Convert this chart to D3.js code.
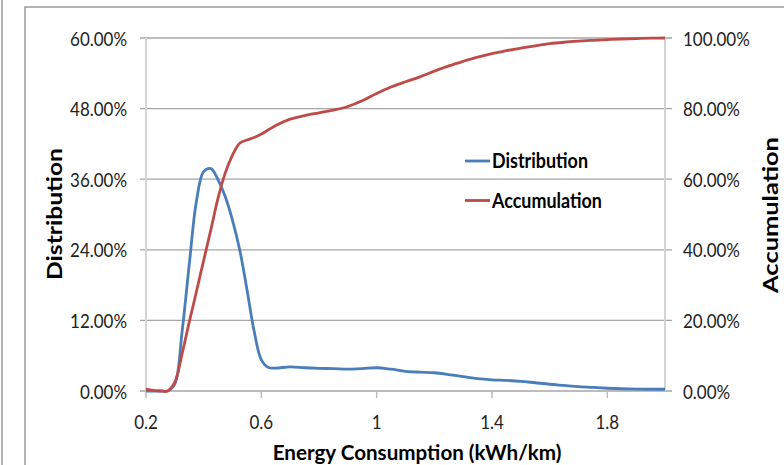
<!DOCTYPE html>
<html><head><meta charset="utf-8">
<script src="https://cdn.jsdelivr.net/npm/d3@7"></script>
<style>body{margin:0;background:#fff;overflow:hidden}</style>
</head><body><svg id="c" width="784" height="465"></svg>
<script>
// ---- data ----
const energy = [0.2,0.225,0.25,0.275,0.3,0.325,0.35,0.375,0.4,0.425,0.45,0.475,0.5,0.525,0.55,0.575,0.6,0.625,0.65,
  0.7,0.75,0.8,0.85,0.9,0.95,1.0,1.05,1.1,1.15,1.2,1.25,1.3,1.35,1.4,1.45,1.5,1.55,1.6,1.65,1.7,1.75,1.8,1.85,1.9,1.95,2.0];
const distribution = [0,0,0,0,1.2,10.0,21.5,32.3,37.3,37.8,35.9,33.0,29.0,24.0,17.3,10.2,5.3,4.0,3.9,
  4.1,3.95,3.85,3.8,3.72,3.8,3.95,3.7,3.35,3.2,3.1,2.8,2.45,2.1,1.9,1.8,1.65,1.4,1.15,0.95,0.75,0.6,0.47,0.38,0.33,0.3,0.3];
const accumulation = [0.5,0.2,0,0,2.5,10.5,19.5,28.2,37.0,45.7,54.7,61.8,66.8,70.2,71.1,71.8,72.8,74.0,75.2,
  77.0,78.0,78.8,79.6,80.6,82.2,84.3,86.1,87.6,89.0,90.6,92.1,93.4,94.6,95.6,96.4,97.15,97.8,98.4,98.8,99.1,99.35,99.55,99.72,99.85,99.95,100];
const xTicks = [0.2,0.6,1.0,1.4,1.8];
const leftTicks = [0,12,24,36,48,60];
const rightTicks = [0,20,40,60,80,100];
const seriesNames = ["Distribution","Accumulation"];
const seriesColors = ["#4A7EBB","#BE4B48"];
const xTitle = "Energy Consumption (kWh/km)";
const yLeftTitle = "Distribution";
const yRightTitle = "Accumulation";

const FONT = "Lato,'Open Sans',sans-serif";
const svg = d3.select("#c");

function measure(str, size, weight){
  const t = svg.append("text").attr("font-family",FONT).attr("font-size",size).attr("font-weight",weight).text(str);
  const w = t.node().getComputedTextLength(); t.remove(); return w;
}
function label(g, str, x, y, o){
  g.append("text").attr("transform",`translate(${x},${y})${o.rot?" rotate(-90)":""} scale(${o.sx},1)`)
    .attr("text-anchor",o.anchor).attr("font-family",FONT).attr("font-size",o.size)
    .attr("font-weight",o.weight||"normal").attr("fill",o.fill||"#000").text(str);
}

// frame
svg.append("line").attr("x1",2).attr("x2",2).attr("y1",0).attr("y2",465).attr("stroke","#9a9a9a").attr("stroke-width",1.5);
svg.append("path").attr("d","M25,465V7H784").attr("fill","none").attr("stroke","#9a9a9a").attr("stroke-width",1.5);

const L=146,R=665,T=38,B=391;
const x = d3.scaleLinear().domain([0.2,2.0]).range([L,R]);
const yL = d3.scaleLinear().domain([0,60]).range([B,T]);
const yR = d3.scaleLinear().domain([0,100]).range([B,T]);

// gridlines (incl. outward ticks both sides)
svg.append("g").selectAll("line").data(leftTicks).join("line")
  .attr("x1",L-6).attr("x2",R+7).attr("y1",d=>yL(d)).attr("y2",d=>yL(d))
  .attr("stroke","#a6a6a6").attr("stroke-width",1.3);
[L,R].forEach(p=>svg.append("line").attr("x1",p).attr("x2",p).attr("y1",T).attr("y2",B)
  .attr("stroke","#d4d4d4").attr("stroke-width",2));
svg.append("g").selectAll("line").data(xTicks).join("line")
  .attr("x1",d=>x(d)).attr("x2",d=>x(d)).attr("y1",B).attr("y2",B+7)
  .attr("stroke","#bdbdbd").attr("stroke-width",1.5);

// tick labels
const fmt = d=>d.toFixed(2)+"%";
const TS = 19.5;
const tsx = 57 / measure("60.00%", TS, "normal");
const gt = svg.append("g");
leftTicks.forEach(d=>label(gt, fmt(d), 127, yL(d)+7.5, {anchor:"end",size:TS,sx:tsx,fill:"#222"}));
rightTicks.forEach(d=>label(gt, fmt(d), 683, yR(d)+7.5, {anchor:"start",size:TS,sx:tsx,fill:"#222"}));
xTicks.forEach(d=>label(gt, String(+d.toFixed(1)), x(d), 429, {anchor:"middle",size:TS,sx:tsx,fill:"#222"}));

// axis titles
const BS = 21;
label(svg, xTitle, 417, 460, {anchor:"middle",size:BS,weight:"bold",sx:289/measure(xTitle,BS,"bold")});
label(svg, yLeftTitle, 62, 214, {anchor:"middle",size:BS,weight:"bold",rot:true,sx:132/measure(yLeftTitle,BS,"bold")});
label(svg, yRightTitle, 778, 215, {anchor:"middle",size:BS,weight:"bold",rot:true,sx:156/measure(yRightTitle,BS,"bold")});

// lines
const pts = energy.map((e,i)=>({e,d:distribution[i],a:accumulation[i]}));
const curve = d3.curveCatmullRom.alpha(0.5);
const lineD = d3.line().x(p=>x(p.e)).y(p=>yL(p.d)).curve(curve);
const lineA = d3.line().x(p=>x(p.e)).y(p=>yR(p.a)).curve(curve);
svg.append("path").attr("d",lineD(pts)).attr("fill","none").attr("stroke",seriesColors[0]).attr("stroke-width",2.8).attr("stroke-linejoin","round");
svg.append("path").attr("d",lineA(pts)).attr("fill","none").attr("stroke",seriesColors[1]).attr("stroke-width",2.8).attr("stroke-linejoin","round");

// legend
const lg = svg.append("g");
const LS = 20.5;
const lsx = 96 / measure(seriesNames[0], LS, "bold");
seriesNames.forEach((n,i)=>{
  const cy = 161 + i*39.5;
  lg.append("line").attr("x1",465).attr("x2",490).attr("y1",cy).attr("y2",cy).attr("stroke",seriesColors[i]).attr("stroke-width",2.8);
  label(lg, n, 492, cy+7, {anchor:"start",size:LS,weight:"bold",sx:lsx});
});
</script></body></html>
